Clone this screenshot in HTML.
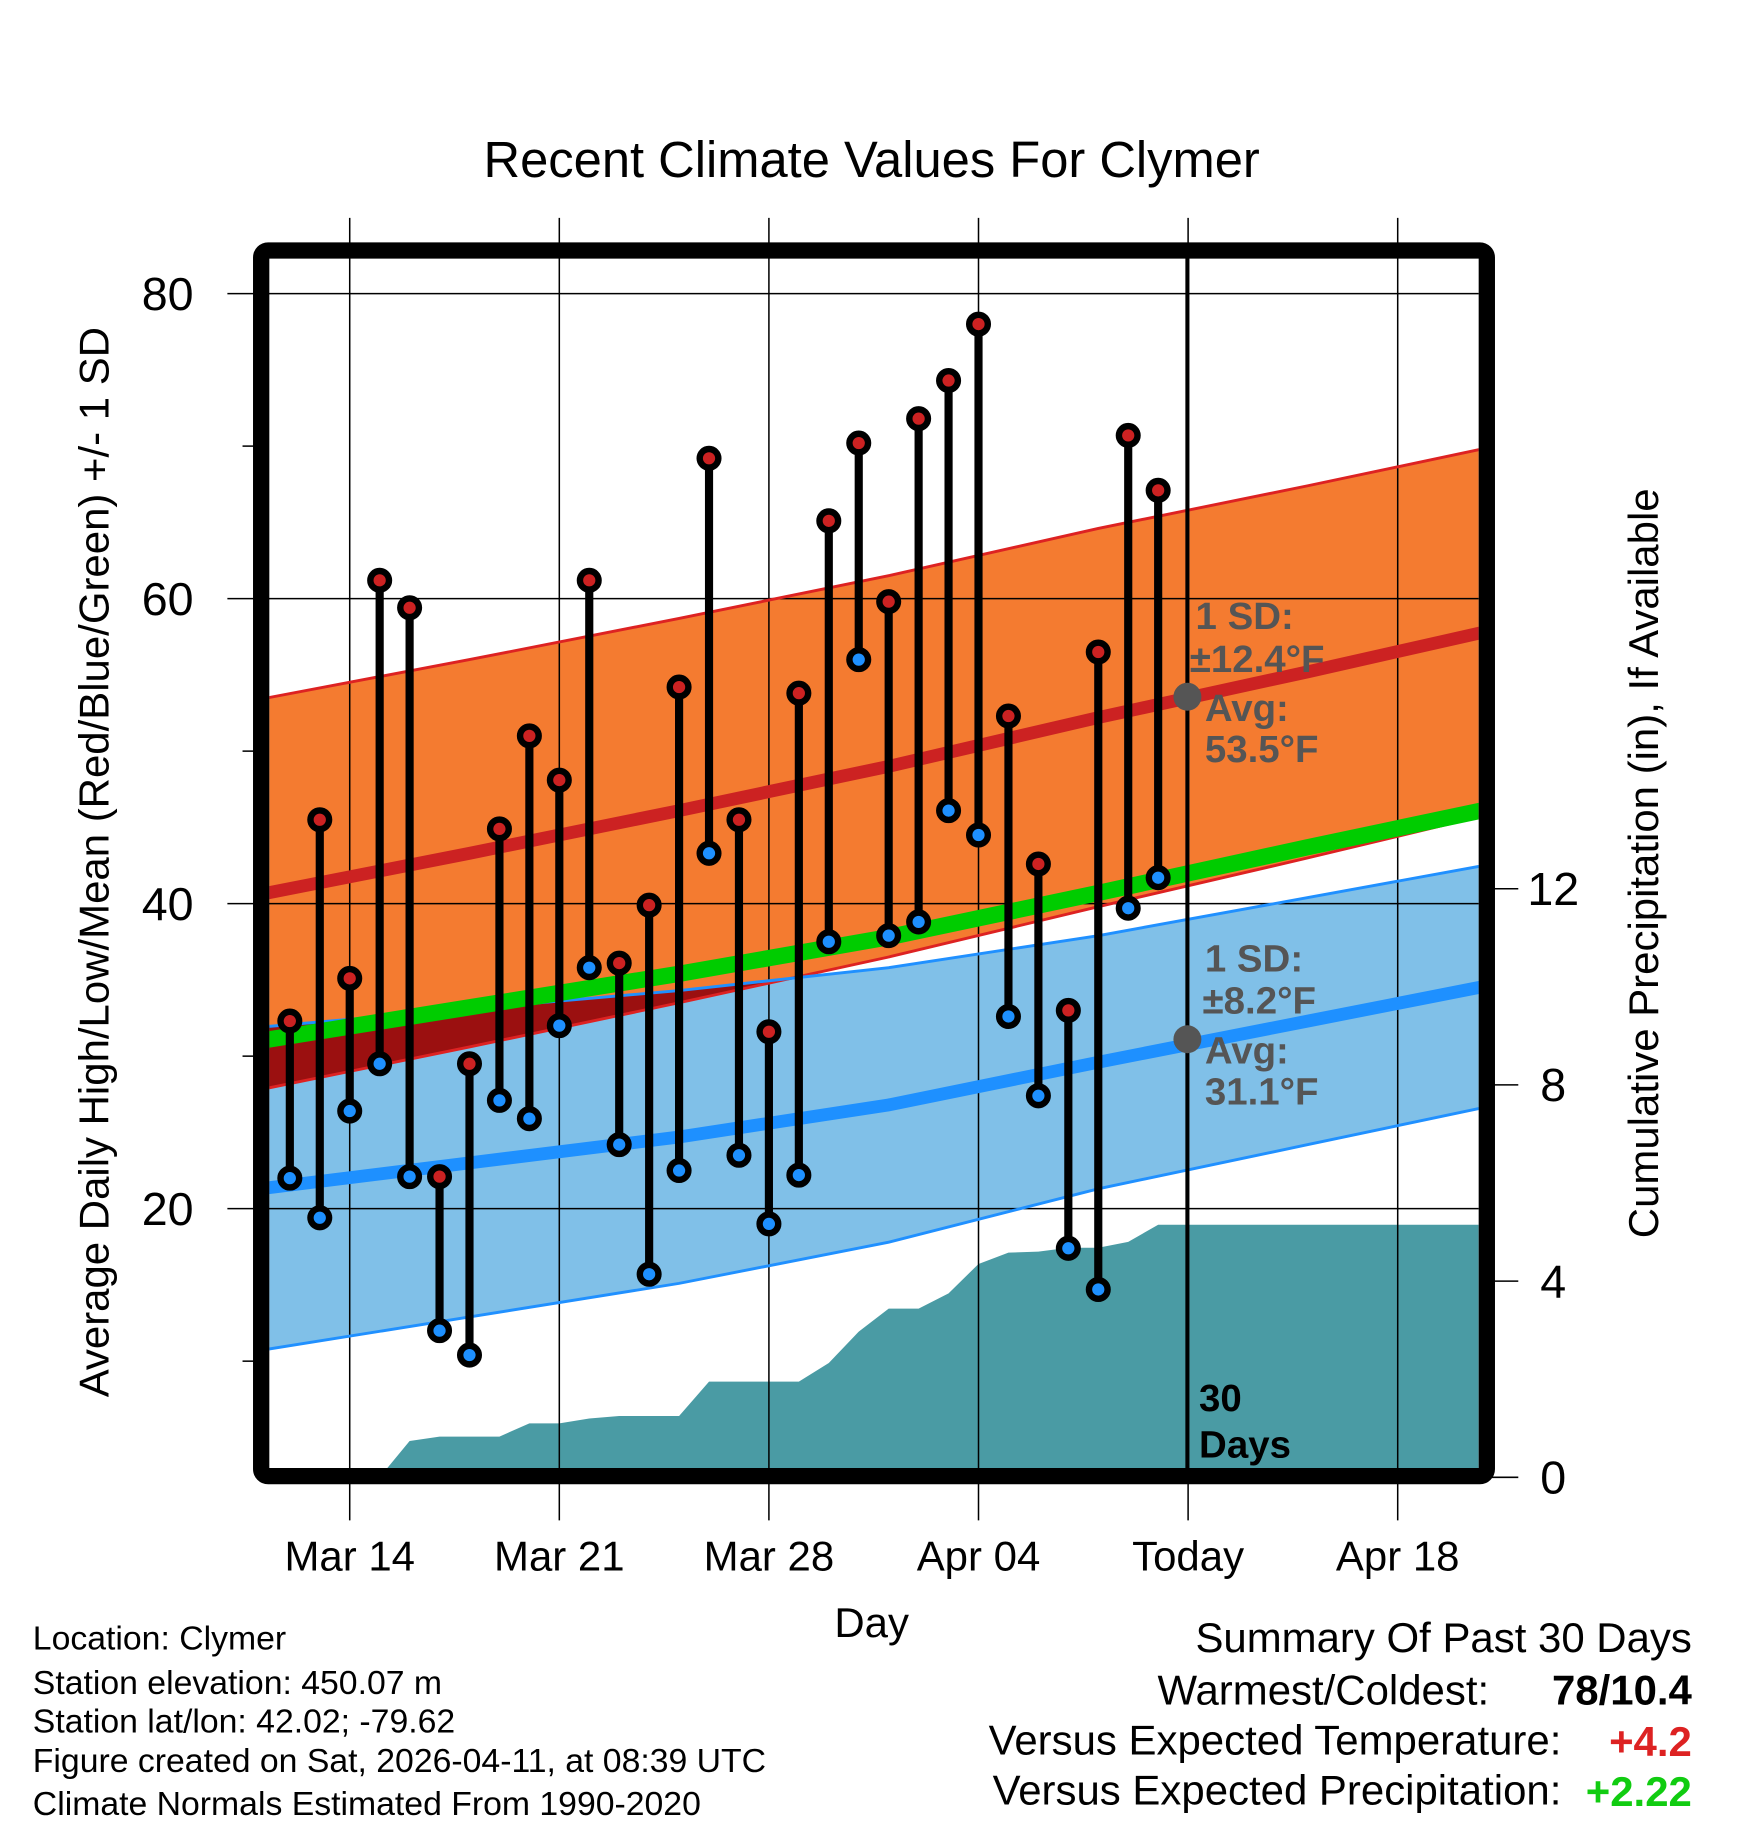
<!DOCTYPE html>
<html><head><meta charset="utf-8"><style>
html,body{margin:0;padding:0;background:#fff}
svg{display:block}
text{font-family:"Liberation Sans",Arial,sans-serif}
</style></head><body>
<svg id="chart" width="1748" height="1828" viewBox="0 0 1500 1569" xmlns="http://www.w3.org/2000/svg">
<defs><clipPath id="plotClip"><rect x="231" y="222" width="1038" height="1038"/></clipPath></defs>
<g id="bands" clip-path="url(#plotClip)"></g>
<g id="precip" clip-path="url(#plotClip)"></g>
<g id="grid"></g>
<g id="lines" clip-path="url(#plotClip)"></g>
<line x1="1019" y1="215" x2="1019" y2="1260" stroke="#000" stroke-width="3.5"/>
<g id="marks"></g>
<rect x="224" y="215" width="1052" height="1052" rx="6" fill="none" stroke="#000" stroke-width="14"/>
<g id="axes"></g>
<g font-weight="bold" fill="#555" font-size="33">
<text x="1026" y="540">1 SD:</text><text x="1021" y="577">±12.4°F</text>
<text x="1034" y="619">Avg:</text><text x="1034" y="654">53.5°F</text></g>
<circle cx="1019" cy="598" r="12" fill="#555"/>
<g font-weight="bold" fill="#555" font-size="33">
<text x="1034" y="834">1 SD:</text><text x="1032" y="870">±8.2°F</text>
<text x="1034" y="913">Avg:</text><text x="1034" y="948">31.1°F</text></g>
<circle cx="1019" cy="892" r="12" fill="#555"/>
<g font-weight="bold" fill="#000" font-size="33">
<text x="1029" y="1211">30</text><text x="1029" y="1251">Days</text></g>
<text x="748" y="152" text-anchor="middle" font-size="43.5">Recent Climate Values For Clymer</text>
<text x="748" y="1405" text-anchor="middle" font-size="36">Day</text>
<text transform="translate(93,740) rotate(-90)" text-anchor="middle" font-size="36">Average Daily High/Low/Mean (Red/Blue/Green) +/- 1 SD</text>
<text transform="translate(1423,741) rotate(-90)" text-anchor="middle" font-size="36">Cumulative Precipitation (in), If Available</text>
<g font-size="29">
<text x="28" y="1416">Location: Clymer</text>
<text x="28" y="1454">Station elevation: 450.07 m</text>
<text x="28" y="1487">Station lat/lon: 42.02; -79.62</text>
<text x="28" y="1521">Figure created on Sat, 2026-04-11, at 08:39 UTC</text>
<text x="28" y="1558">Climate Normals Estimated From 1990-2020</text></g>
<g font-size="36" text-anchor="end">
<text x="1452" y="1418">Summary Of Past 30 Days</text>
<text x="1278" y="1463">Warmest/Coldest:</text>
<text x="1452" y="1463" font-weight="bold">78/10.4</text>
<text x="1340" y="1506">Versus Expected Temperature:</text>
<text x="1452" y="1507" font-weight="bold" fill="#d22">+4.2</text>
<text x="1340" y="1549">Versus Expected Precipitation:</text>
<text x="1452" y="1550" font-weight="bold" fill="#1c1">+2.22</text></g>
</svg>
<script>
// day index 0 = Mar 12
const highs=[32.3,45.5,35.1,61.2,59.4,22.1,29.5,44.9,51.0,48.1,61.2,36.1,39.9,54.2,69.2,45.5,31.6,53.8,65.1,70.2,59.8,71.8,74.3,78.0,52.3,42.6,33.0,56.5,70.7,67.1];
const lows=[22.0,19.4,26.4,29.5,22.1,12.0,10.4,27.1,25.9,32.0,35.8,24.2,15.7,22.5,43.3,23.5,19.0,22.2,37.5,56.0,37.9,38.8,46.1,44.5,32.6,27.4,17.4,14.7,39.7,41.7];
const precip=[0,0,0,0,0.74,0.83,0.83,0.83,1.1,1.1,1.2,1.25,1.25,1.25,1.95,1.95,1.95,1.95,2.33,2.97,3.44,3.44,3.75,4.35,4.58,4.6,4.68,4.68,4.8,5.15];
// normals at weekly days (day index relative to Mar 12)
const normDays=[-1,6,13,20,27,34,41];
const hiAvg=[40.6,43.3,46.1,49.0,52.2,55.2,58.3];
const hiSD=[12.8,12.7,12.6,12.5,12.4,12.2,12.0];
const loAvg=[21.3,23.0,24.7,26.8,29.6,32.3,35.0];
const loSD=[10.6,10.1,9.6,9.0,8.3,8.1,7.9];
const meanAvg=[31.0,33.2,35.4,37.8,40.7,43.7,46.6];
const yTicks=[80,60,40,20];
const yMinor=[70,50,30,10];
const pTicks=[0,4,8,12];
const xTickDays=[2,9,16,23,30,37];
const xTickLabels=["Mar 14","Mar 21","Mar 28","Apr 04","Today","Apr 18"];

const NS="http://www.w3.org/2000/svg";
const X=d=>248.6+d*25.7;
const Y=t=>252+(80-t)*13.09;
const P=v=>1268-v*42.1;
function mk(tag,attrs,parent){const e=document.createElementNS(NS,tag);for(const k in attrs)e.setAttribute(k,attrs[k]);parent.appendChild(e);return e;}
const bands=document.getElementById('bands'),lines=document.getElementById('lines'),grid=document.getElementById('grid'),marks=document.getElementById('marks'),axes=document.getElementById('axes'),pg=document.getElementById('precip');

function pts(f){return normDays.map((d,i)=>X(d)+','+Y(f(i))).join(' ');}
const hiUp=pts(i=>hiAvg[i]+hiSD[i]), hiLo=normDays.map((d,i)=>X(d)+','+Y(hiAvg[i]-hiSD[i])).reverse().join(' ');
const loUp=pts(i=>loAvg[i]+loSD[i]), loLo=normDays.map((d,i)=>X(d)+','+Y(loAvg[i]-loSD[i])).reverse().join(' ');
const defs=document.querySelector('defs');
const cp=mk('clipPath',{id:'hiClip'},defs);mk('polygon',{points:hiUp+' '+hiLo},cp);
let e;
e=mk('polygon',{points:loUp+' '+loLo,fill:'#80c0e8'},bands);


e=mk('polygon',{points:hiUp+' '+hiLo,fill:'#f47b30'},bands);


e=mk('polygon',{points:loUp+' '+loLo,fill:'#9b1010','clip-path':'url(#hiClip)'},bands);



// precipitation
let pp='231,1268 231,'+P(precip[0]);
precip.forEach((v,i)=>{pp+=' '+X(i)+','+P(v);});
pp+=' 1269,'+P(precip[precip.length-1])+' 1269,1268';
e=mk('polygon',{points:pp,fill:'#4a9ba4'},pg);



// grid
xTickDays.forEach((d,i)=>{
  e=mk('line',{x1:X(d),y1:187,x2:X(d),y2:1305,stroke:'#000','stroke-width':1.3},grid);
  
  
  e=mk('text',{x:X(d),y:1348,'text-anchor':'middle','font-size':36},axes);e.textContent=xTickLabels[i];
  
  
});
yTicks.forEach(t=>{
  e=mk('line',{x1:195,y1:Y(t),x2:1269,y2:Y(t),stroke:'#000','stroke-width':1.3},grid);
  
  
  e=mk('text',{x:166,y:Y(t)+14,'text-anchor':'end','font-size':40},axes);e.textContent=t;
  
  
});
yMinor.forEach(t=>{
  e=mk('line',{x1:208,y1:Y(t),x2:220,y2:Y(t),stroke:'#000','stroke-width':1.3},grid);
  
  
});
pTicks.forEach(v=>{
  e=mk('line',{x1:1276,y1:P(v),x2:1303,y2:P(v),stroke:'#000','stroke-width':1.3},axes);
  
  
  e=mk('text',{x:1333,y:P(v)+14,'text-anchor':'middle','font-size':40},axes);e.textContent=v;
  
  
});

// lines
function line(f,color,w,name){const p=normDays.map((d,i)=>X(d)+','+Y(f(i))).join(' ');
  const l=mk('polyline',{points:p,fill:'none',stroke:color,'stroke-width':w},lines);
  
  }
line(i=>hiAvg[i]+hiSD[i],'#dd2222',2.5,'high-sd-upper');
line(i=>hiAvg[i]-hiSD[i],'#dd2222',2.5,'high-sd-lower');
line(i=>loAvg[i]+loSD[i],'#2090ff',2.5,'low-sd-upper');
line(i=>loAvg[i]-loSD[i],'#2090ff',2.5,'low-sd-lower');
line(i=>meanAvg[i],'#00cc00',14,'mean-normal-line');
line(i=>hiAvg[i],'#cc2222',11,'high-normal-line');
line(i=>loAvg[i],'#1e90ff',11,'low-normal-line');

// daily marks
highs.forEach((h,i)=>{
  const x=X(i);
  e=mk('line',{x1:x,y1:Y(h),x2:x,y2:Y(lows[i]),stroke:'#000','stroke-width':7},marks);
  
  
  e=mk('circle',{cx:x,cy:Y(h),r:8,fill:'#cc2222',stroke:'#000','stroke-width':5.5},marks);
  
  
  e=mk('circle',{cx:x,cy:Y(lows[i]),r:8,fill:'#1e90ff',stroke:'#000','stroke-width':5.5},marks);
  
  
});
</script>
</body></html>
